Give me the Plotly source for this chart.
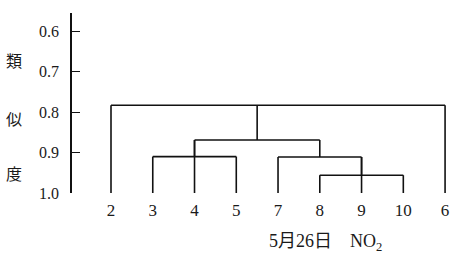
import plotly.graph_objects as go

# Leaf order along the x axis
leaves = ["2", "3", "4", "5", "7", "8", "9", "10", "6"]
leaf_height = 1.0

# Clusters: children (leaf labels or earlier cluster names) and merge similarity
cluster_names = ["A", "B", "C", "D", "ROOT"]
cluster_children = [
    ["3", "5"],
    ["8", "10"],
    ["7", "9", "B"],
    ["A", "4", "C"],
    ["2", "D", "6"],
]
cluster_heights = [0.910, 0.956, 0.911, 0.869, 0.783]

y_ticks = [0.6, 0.7, 0.8, 0.9, 1.0]
y_tick_text = ["0.6", "0.7", "0.8", "0.9", "1.0"]
y_title_chars = ["類", "似", "度"]
title_text = "5月26日　NO<sub>2</sub>"

# positions
pos = {lab: i for i, lab in enumerate(leaves)}
hgt = {lab: leaf_height for lab in leaves}
xs, ys = [], []
for name, kids, h in zip(cluster_names, cluster_children, cluster_heights):
    kx = [pos[k] for k in kids]
    lo, hi = min(kx), max(kx)
    for k in kids:
        xs += [pos[k], pos[k], None]
        ys += [hgt[k], h, None]
    xs += [lo, hi, None]
    ys += [h, h, None]
    pos[name] = (lo + hi) / 2
    hgt[name] = h

fig = go.Figure()
fig.add_trace(go.Scatter(x=xs, y=ys, mode="lines",
                         line=dict(color="#111111", width=1.6),
                         hoverinfo="skip", cliponaxis=False, showlegend=False))

serif = "Liberation Serif, Noto Sans CJK JP, serif"
fig.update_layout(
    width=453, height=253,
    margin=dict(l=72, r=0, t=13, b=60, autoexpand=False),
    paper_bgcolor="white", plot_bgcolor="white",
    font=dict(family=serif, color="#1a1a1a", size=15),
    xaxis=dict(range=[-0.934, 8.19], tickvals=list(range(len(leaves))),
               ticktext=leaves, showgrid=False, zeroline=False,
               showline=False, ticks="", ticklabelstandoff=5, automargin=False,
               tickfont=dict(size=17, family=serif)),
    yaxis=dict(range=[1.0, 0.555], tickvals=y_ticks, ticktext=y_tick_text,
               showgrid=False, zeroline=False, showline=True, automargin=False,
               linecolor="#111111", linewidth=1.5,
               ticks="inside", ticklen=8, tickwidth=1.2, tickcolor="#111111",
               ticklabelstandoff=8, tickfont=dict(size=16, family=serif)),
)

for ch, py in zip(y_title_chars, [60, 118, 173]):
    fig.add_annotation(text=ch, xref="paper", yref="paper",
                       x=(14 - 72) / 381, y=(193 - py) / 180,
                       showarrow=False, font=dict(size=16, family="Noto Sans CJK JP"),
                       xanchor="center", yanchor="middle")

fig.add_annotation(text=title_text, xref="paper", yref="paper",
                   x=(325 - 72) / 381, y=(193 - 242) / 180,
                   showarrow=False, font=dict(size=18, family=serif),
                   xanchor="center", yanchor="middle")

fig.write_html(
    "out.html",
    config={"displayModeBar": False},
    post_script="document.body.style.margin='0';document.body.style.overflow='hidden';",
)
